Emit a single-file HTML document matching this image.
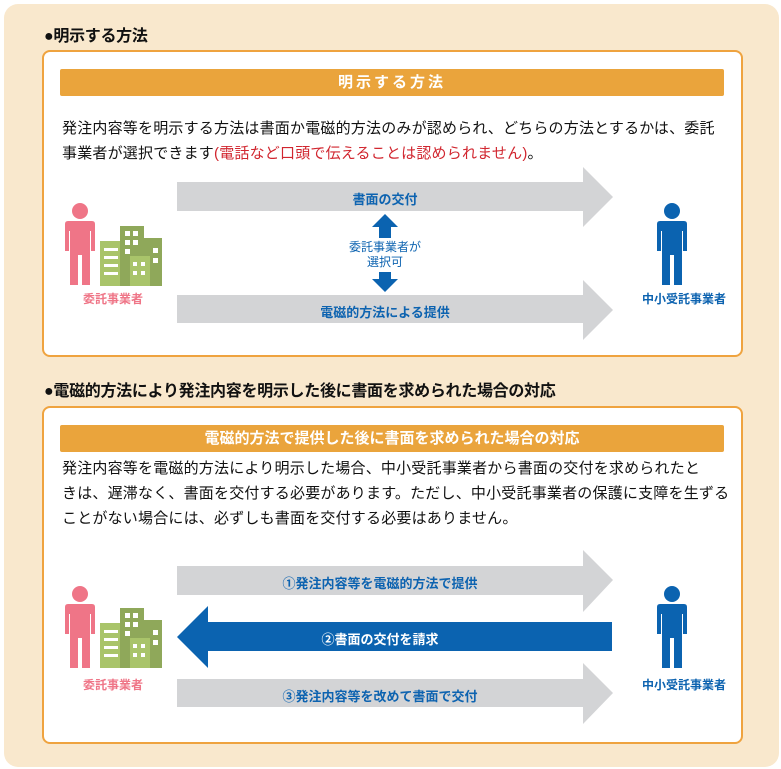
<!DOCTYPE html>
<html><head><meta charset="utf-8"><style>
*{margin:0;padding:0;box-sizing:border-box}
body{width:781px;height:769px;background:#fff;font-family:"Liberation Sans","Noto Sans CJK JP",sans-serif;position:relative;overflow:hidden}
.bg{position:absolute;left:4px;top:4px;width:775px;height:763px;background:#f9e8cd;border-radius:14px}
.t{position:absolute;font-weight:bold;font-size:16px;color:#111;white-space:nowrap;letter-spacing:-0.3px}
.box{position:absolute;left:42px;width:701px;background:#fff;border:2px solid #efa33f;border-radius:8px}
.hd{position:absolute;left:60px;width:664px;height:27px;background:#eaa43c;color:#fff;font-weight:bold;font-size:15px;text-align:center;line-height:27px;border-radius:2px}
.p{position:absolute;left:62px;font-size:15px;color:#111;line-height:25px;white-space:nowrap;letter-spacing:0.2px}
.lbl{position:absolute;font-weight:bold;font-size:13px;color:#0d63b0;white-space:nowrap;text-align:center}
svg{position:absolute;left:0;top:0}
</style></head><body>
<div class="bg"></div>
<div class="t" style="left:44px;top:22px">●明示する方法</div>
<div class="box" style="top:50px;height:307px"></div>
<div class="hd" style="top:69px;letter-spacing:3px">明示する方法</div>
<div class="p" style="top:116px">発注内容等を明示する方法は書面か電磁的方法のみが認められ、どちらの方法とするかは、委託<br>事業者が選択できます<span style="color:#d1262f">(電話など口頭で伝えることは認められません)</span>。</div>

<div class="t" style="left:44px;top:377px">●電磁的方法により発注内容を明示した後に書面を求められた場合の対応</div>
<div class="box" style="top:406px;height:338px"></div>
<div class="hd" style="top:425px">電磁的方法で提供した後に書面を求められた場合の対応</div>
<div class="p" style="top:456px">発注内容等を電磁的方法により明示した場合、中小受託事業者から書面の交付を求められたと<br>きは、遅滞なく、書面を交付する必要があります。ただし、中小受託事業者の保護に支障を生ずる<br>ことがない場合には、必ずしも書面を交付する必要はありません。</div>

<svg width="781" height="769">
<defs>
<g id="pp"><circle cx="15" cy="8" r="8"/><path d="M3 18 H27 Q30 18 30 21 V48 H26 V28 H25 V82 H17 V52 H13 V82 H5 V28 H4 V48 H0 V21 Q0 18 3 18Z"/></g>
<g id="bd"><rect x="0" y="15" width="22" height="45" fill="#a9c46a"/><rect x="20" y="0" width="24" height="60" fill="#8fa85a"/><rect x="42" y="12" width="20" height="48" fill="#8fa85a"/><rect x="30" y="30" width="20" height="30" fill="#a9c46a"/>
<g fill="#fff"><rect x="4" y="22" width="14" height="3"/><rect x="4" y="30" width="14" height="3"/><rect x="4" y="38" width="14" height="3"/><rect x="4" y="46" width="14" height="3"/><rect x="25" y="5" width="5" height="5"/><rect x="33" y="5" width="5" height="5"/><rect x="25" y="14" width="5" height="5"/><rect x="33" y="14" width="5" height="5"/><rect x="25" y="23" width="5" height="5"/><rect x="33" y="36" width="4" height="4"/><rect x="41" y="36" width="4" height="4"/><rect x="33" y="45" width="4" height="4"/><rect x="41" y="45" width="4" height="4"/><rect x="53" y="22" width="5" height="5"/><rect x="53" y="32" width="5" height="5"/></g></g>
</defs>
<polygon points="177,182 583,182 583,167 613,197 583,227 583,211 177,211" fill="#d3d4d6"/>
<polygon points="177,295 583,295 583,280 613,310 583,340 583,323 177,323" fill="#d3d4d6"/>
<polygon points="385,214 398,227 391,227 391,238 379,238 379,227 372,227" fill="#0b63b0"/>
<polygon points="385,292 398,279 391,279 391,272 379,272 379,279 372,279" fill="#0b63b0"/>
<use href="#pp" x="65" y="203" fill="#ef7587"/>
<use href="#bd" x="100" y="226"/>
<use href="#pp" x="657" y="203" fill="#0b63b0"/>
<polygon points="177,566 583,566 583,550 613,580 583,612 583,595 177,595" fill="#d3d4d6"/>
<polygon points="612,622 208,622 208,606 177,637 208,668 208,651 612,651" fill="#0b63b0"/>
<polygon points="177,679 583,679 583,663 613,693 583,724 583,707 177,707" fill="#d3d4d6"/>
<use href="#pp" x="65" y="586" fill="#ef7587"/>
<use href="#bd" x="100" y="608"/>
<use href="#pp" x="657" y="586" fill="#0b63b0"/>
</svg>

<div class="lbl" style="left:300px;top:189px;width:170px">書面の交付</div>
<div class="lbl" style="left:300px;top:302px;width:170px">電磁的方法による提供</div>
<div class="lbl" style="left:335px;top:240px;width:100px;font-weight:normal;font-size:12px;line-height:15px">委託事業者が<br>選択可</div>
<div class="lbl" style="left:68px;top:290px;width:90px;color:#ef7587;font-size:12px">委託事業者</div>
<div class="lbl" style="left:624px;top:290px;width:120px;font-size:12px">中小受託事業者</div>

<div class="lbl" style="left:250px;top:573px;width:260px">①発注内容等を電磁的方法で提供</div>
<div class="lbl" style="left:250px;top:629px;width:260px;color:#fff">②書面の交付を請求</div>
<div class="lbl" style="left:250px;top:686px;width:260px">③発注内容等を改めて書面で交付</div>
<div class="lbl" style="left:68px;top:676px;width:90px;color:#ef7587;font-size:12px">委託事業者</div>
<div class="lbl" style="left:624px;top:676px;width:120px;font-size:12px">中小受託事業者</div>
</body></html>
